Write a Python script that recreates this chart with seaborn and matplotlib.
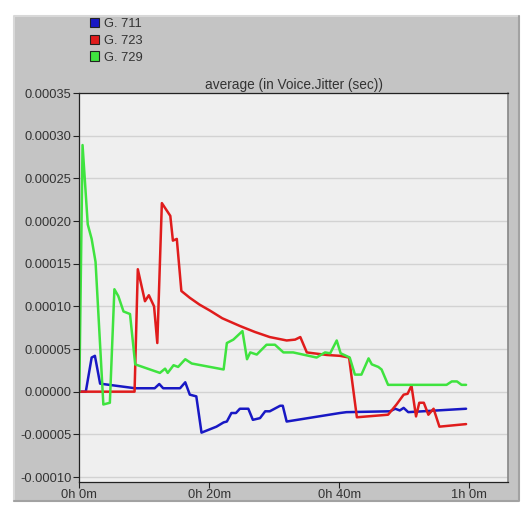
import pandas as pd
import matplotlib
matplotlib.use("Agg")
import matplotlib.pyplot as plt
from matplotlib.patches import Rectangle, Patch
from matplotlib.lines import Line2D
import seaborn as sns

# values: time in minutes, jitter in units of 1e-5 sec
UNIT = 1e-5

g711_t = [0, 1.0, 1.9, 2.4, 3.2, 8.6, 11.6, 12.3, 12.9, 15.5, 16.3, 17.0, 18.0, 18.8,
          21.1, 22.2, 22.7, 23.4, 24.1, 24.7, 26.0, 26.7, 27.8, 28.6, 29.3, 30.9, 31.3,
          31.9, 40.1, 41.1, 47.8, 48.6, 49.3, 49.9, 50.6, 59.5]
g711_v = [0, 0, 4.0, 4.2, 0.94, 0.4, 0.4, 0.9, 0.4, 0.4, 1.1, -0.35, -0.55, -4.8,
          -4.1, -3.6, -3.5, -2.5, -2.5, -2.0, -2.0, -3.3, -3.1, -2.3, -2.3, -1.65, -1.65,
          -3.5, -2.5, -2.4, -2.3, -2.0, -2.2, -1.9, -2.4, -2.0]

g723_t = [0, 8.5, 9.0, 10.1, 10.7, 11.5, 12.0, 12.7, 14.0, 14.4, 15.0, 15.7, 17.0,
          18.5, 20.1, 22.0, 24.7, 27.0, 29.3, 31.9, 33.2, 34.0, 35.0, 38.1, 40.1, 41.5,
          42.7, 47.5, 48.8, 49.9, 50.5, 51.1, 51.8, 52.3, 53.0, 53.7, 54.5, 55.4, 59.5]
g723_v = [0, 0, 14.35, 10.6, 11.3, 10.0, 5.7, 22.1, 20.6, 17.7, 17.9, 11.8, 11.0,
          10.2, 9.5, 8.6, 7.7, 7.0, 6.4, 6.0, 6.1, 6.4, 4.6, 4.3, 4.2, 4.0,
          -3.0, -2.7, -1.5, -0.35, -0.25, 0.7, -2.9, -1.3, -1.3, -2.7, -2.0, -4.1, -3.8]

g729_t = [0, 0.5, 1.3, 1.9, 2.5, 3.7, 4.7, 5.4, 6.0, 6.8, 7.8, 8.6, 12.4, 13.2, 13.6,
          14.5, 15.2, 16.3, 17.3, 22.2, 22.7, 23.7, 25.1, 25.8, 26.3, 27.3, 28.8, 30.1,
          31.4, 32.9, 36.5, 37.8, 38.6, 39.6, 40.2, 41.6, 42.4, 43.4, 44.5, 45.0, 46.0,
          46.5, 47.5, 56.5, 57.3, 58.1, 58.8, 59.5]
g729_v = [0, 28.9, 19.6, 17.9, 15.2, -1.5, -1.3, 12.0, 11.2, 9.4, 9.1, 3.2, 2.2, 2.7, 2.2,
          3.1, 2.9, 3.8, 3.3, 2.6, 5.7, 6.1, 7.1, 3.8, 4.6, 4.35, 5.5, 5.5,
          4.6, 4.6, 4.0, 4.6, 4.5, 6.0, 4.5, 4.0, 2.0, 2.0, 3.9, 3.2, 2.9,
          2.6, 0.8, 0.8, 1.2, 1.2, 0.8, 0.8]

codecs = ["G. 711", "G. 723", "G. 729"]
colors = ["#1818c4", "#e01c1c", "#3fe33f"]
y_ticks = [-10, -5, 0, 5, 10, 15, 20, 25, 30, 35]
x_ticks = [0, 20, 40, 60]
x_labels = ["0h 0m", "0h 20m", "0h 40m", "1h 0m"]

frames = []
for name, t, v in zip(codecs, [g711_t, g723_t, g729_t], [g711_v, g723_v, g729_v]):
    frames.append(pd.DataFrame({"minutes": t, "jitter": [x * UNIT for x in v], "codec": name}))
df = pd.concat(frames, ignore_index=True)

sns.set_theme(style="white")
plt.rcParams["font.family"] = ["Liberation Sans", "DejaVu Sans"]

W, H = 525, 507
fig = plt.figure(figsize=(W / 100, H / 100), dpi=100, facecolor="white")

# grey bevelled panel behind the chart
x0, x1, y0, y1 = 14 / W, 519 / W, 1 - 501 / H, 1 - 16 / H
fig.patches.append(Rectangle((x0, y0), x1 - x0, y1 - y0, transform=fig.transFigure,
                             facecolor="#c4c4c4", edgecolor="none", zorder=-5))
fig.lines.append(Line2D([x0, x0, x1], [y0, y1, y1], transform=fig.transFigure,
                        color="#d8d8d8", lw=1.5, zorder=-4))
fig.lines.append(Line2D([x0, x1, x1], [y0, y0, y1], transform=fig.transFigure,
                        color="#a2a2a2", lw=1.5, zorder=-4))

ax = fig.add_axes([79.3 / W, 1 - 481.7 / H, (508 - 79.3) / W, (481.7 - 93) / H])
ax.set_facecolor("#efefef")
ax.set_zorder(2)

sns.lineplot(data=df, x="minutes", y="jitter", hue="codec", hue_order=codecs,
             palette=dict(zip(codecs, colors)), estimator=None, sort=False,
             lw=1.8, legend=False, ax=ax)

ax.set_xlim(0, 65.95)
ax.set_ylim(-10.55 * UNIT, 35 * UNIT)
ax.set_yticks([y * UNIT for y in y_ticks])
ax.set_yticklabels([f"{y * UNIT:.5f}" for y in y_ticks])
ax.set_xticks(x_ticks)
ax.set_xticklabels(x_labels)
ax.yaxis.grid(True, color="#d2d2d2", lw=1)
ax.xaxis.grid(False)
ax.tick_params(axis="both", direction="out", length=4, width=0.8, color="#222222",
               labelsize=9.3, labelcolor="#333333", pad=1.5)
ax.tick_params(axis="y", left=True)
ax.tick_params(axis="x", bottom=True)
ax.set_xlabel("")
ax.set_ylabel("")
for side in ["left", "bottom", "top"]:
    ax.spines[side].set_color("#222222")
    ax.spines[side].set_linewidth(0.9)
ax.spines["right"].set_color("#8a8a8a")
ax.set_title("average (in Voice.Jitter (sec))", fontsize=9.8, color="#333333", pad=3)

handles = [Patch(facecolor=c, edgecolor="#222222", lw=0.8, label=n) for n, c in zip(codecs, colors)]
fig.legend(handles=handles, loc="upper left", bbox_to_anchor=(87 / W, 1 - 15 / H),
           frameon=False, fontsize=9.3, handlelength=0.7, handleheight=0.7,
           handletextpad=0.4, labelspacing=0.38, borderaxespad=0, borderpad=0.2,
           labelcolor="#333333")

fig.savefig("out.png", dpi=100, facecolor="white")
